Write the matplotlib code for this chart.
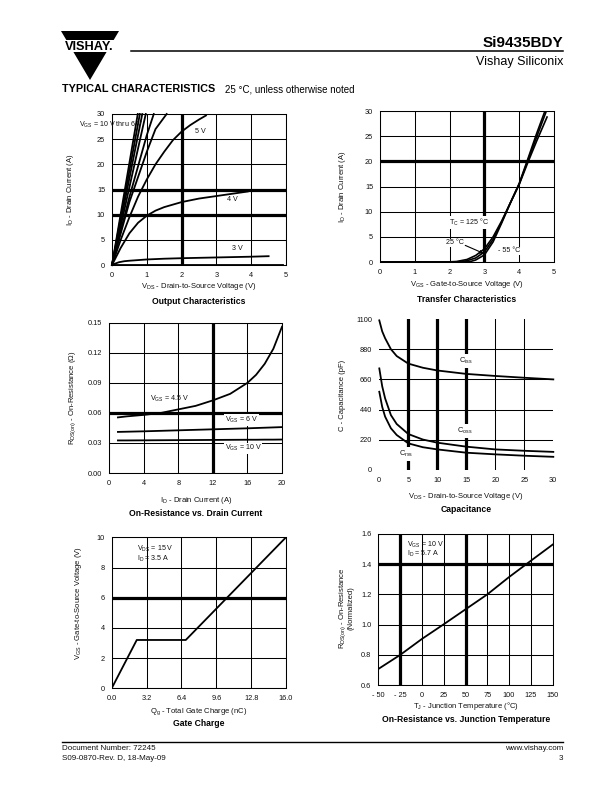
import matplotlib
matplotlib.use("Agg")
import matplotlib.pyplot as plt
from matplotlib.patches import Polygon, Rectangle
import numpy as np

plt.rcParams['font.family'] = ['Liberation Sans', 'DejaVu Sans']
plt.rcParams['mathtext.fontset'] = 'custom'
plt.rcParams['mathtext.rm'] = 'Liberation Sans'
plt.rcParams['mathtext.it'] = 'Liberation Sans'
plt.rcParams['mathtext.bf'] = 'Liberation Sans:bold'
plt.rcParams['mathtext.default'] = 'regular'

# ---------------- data ----------------
# Output characteristics (VDS [V], ID [A])
out_10v_x = [0, 0.74]; out_10v_y = [0, 30]
out_9v_x = [0, 0.80]; out_9v_y = [0, 30]
out_8v_x = [0, 0.87]; out_8v_y = [0, 30]
out_7v_x = [0, 0.97]; out_7v_y = [0, 30]
out_6v_x = [0, 0.5, 1.0, 1.2]; out_6v_y = [0, 13.5, 25.8, 30]
out_55v_x = [0, 0.5, 1.0, 1.25, 1.57]; out_55v_y = [0, 12.5, 22.5, 27.0, 30]
out_5v_x = [0, 0.25, 0.5, 0.75, 1.0, 1.25, 1.5, 1.75, 2.0, 2.25, 2.5, 2.7]
out_5v_y = [0, 5.0, 9.5, 13.6, 17.0, 20.0, 22.5, 24.8, 26.5, 27.8, 28.9, 29.7]
out_4v_x = [0, 0.25, 0.5, 0.75, 1.0, 1.25, 1.5, 2.0, 2.5, 3.0, 3.5, 3.9]
out_4v_y = [0, 3.4, 6.3, 8.4, 9.8, 10.8, 11.5, 12.5, 13.2, 13.7, 14.2, 14.6]
out_3v_x = [0, 0.1, 0.2, 0.35, 0.5, 1.0, 1.5, 2.0, 3.0, 4.0, 4.5]
out_3v_y = [0, 0.3, 0.55, 0.75, 0.85, 1.1, 1.25, 1.35, 1.5, 1.65, 1.75]
out_2v_x = [0, 4.9]; out_2v_y = [0.03, 0.03]

# Transfer characteristics (VGS [V], ID [A])
tr_25_x = [0, 2.0, 2.3, 2.5, 2.75, 3.0, 3.25, 3.5, 3.75, 4.0, 4.25, 4.5, 4.78]
tr_25_y = [0, 0, 0.05, 0.25, 0.8, 2.0, 4.5, 8.0, 11.8, 15.5, 20.2, 24.8, 30.0]
tr_125_x = [0, 1.9, 2.2, 2.5, 2.75, 3.0, 3.25, 3.5, 3.75, 4.0, 4.25, 4.5, 4.8]
tr_125_y = [0, 0, 0.1, 0.5, 1.3, 2.6, 5.0, 8.2, 11.8, 15.4, 19.8, 24.0, 28.8]
tr_m55_x = [0, 2.4, 2.6, 2.75, 3.0, 3.25, 3.5, 3.75, 4.0, 4.25, 4.5, 4.74]
tr_m55_y = [0, 0, 0.1, 0.4, 1.4, 4.0, 7.8, 11.8, 15.6, 20.5, 25.5, 30.0]

# On-resistance vs drain current (ID [A], RDS(on) [ohm])
ron_id = [1, 2, 4, 6, 8, 10, 12, 14, 16, 17, 18, 19, 20]
ron_45v = [0.0555, 0.0565, 0.058, 0.060, 0.0635, 0.067, 0.0725, 0.079, 0.090, 0.098, 0.109, 0.124, 0.146]
ron_6v = [0.0410, 0.0412, 0.0416, 0.0421, 0.0426, 0.0431, 0.0436, 0.0441, 0.0446, 0.0449, 0.0452, 0.0455, 0.0458]
ron_10v = [0.0325, 0.0325, 0.0326, 0.0327, 0.0328, 0.0329, 0.0330, 0.0331, 0.0332, 0.0332, 0.0333, 0.0333, 0.0334]

# Capacitance (VDS [V], C [pF])
cap_v = [0, 0.5, 1, 2, 3, 5, 7.5, 10, 15, 20, 25, 30]
cap_ciss = [1090, 1010, 960, 880, 830, 775, 745, 725, 700, 685, 672, 660]
cap_coss = [740, 610, 522, 400, 335, 262, 222, 199, 170, 150, 140, 132]
cap_crss = [570, 460, 389, 304, 255, 194, 166, 150, 126, 114, 104, 96]

# Gate charge (Qg [nC], VGS [V])
gc_q = [0, 2.3, 6.8, 16.0]
gc_v = [0, 3.2, 3.2, 10.0]

# On-resistance vs junction temperature (TJ [C], normalized RDS(on))
rt_t = [-50, -25, 0, 25, 50, 75, 100, 125, 150]
rt_r = [0.706, 0.799, 0.905, 1.002, 1.101, 1.200, 1.315, 1.423, 1.530]

# ---------------- figure ----------------
W, H = 612, 792
fig = plt.figure(figsize=(W / 100, H / 100), dpi=100)
fig.patch.set_facecolor('white')

ov = fig.add_axes([0, 0, 1, 1])
ov.set_xlim(0, W)
ov.set_ylim(H, 0)
ov.axis('off')

TXT = '#111111'
TICK_FS = 5.3
LAB_FS = 5.5
TIT_FS = 6.2
ANN_FS = 5.1
THIN = 0.75
THICK = 2.3
CURVE = 1.3


def add_ax(l, t, r, b):
    ax = fig.add_axes([l / W, 1 - b / H, (r - l) / W, (b - t) / H])
    ax.patch.set_alpha(0)
    return ax


def style(ax, xlim, ylim, xt, yt, xtl=None, ytl=None, thick_x=(), thick_y=(), frame=True):
    ax.set_xlim(*xlim)
    ax.set_ylim(*ylim)
    ax.set_xticks(xt)
    ax.set_yticks(yt)
    if xtl is not None:
        ax.set_xticklabels(xtl)
    if ytl is not None:
        ax.set_yticklabels(ytl)
    ax.tick_params(length=0, labelsize=TICK_FS, labelcolor=TXT, pad=5)
    for s in ax.spines.values():
        s.set_visible(frame)
        s.set_linewidth(THIN)
        s.set_color('black')
    inner_x = xt if frame else xt[1:-1]
    inner_y = yt if frame else yt[1:-1]
    for v in inner_x:
        ax.axvline(v, color='black', lw=THICK if v in thick_x else THIN, zorder=1)
    for v in inner_y:
        ax.axhline(v, color='black', lw=THICK if v in thick_y else THIN, zorder=1)


def labels(cx, xl_y, xl, title_y, title, yl_x, yl_y, yl):
    ov.text(cx, xl_y, xl, ha='center', va='center', fontsize=LAB_FS, color=TXT)
    ov.text(cx, title_y, title, ha='center', va='center', fontsize=TIT_FS,
            fontweight='bold', color='black')
    ov.text(yl_x, yl_y, yl, ha='center', va='center', rotation=90,
            fontsize=LAB_FS, color=TXT, linespacing=1.0)


# ---------------- header ----------------
ov.add_patch(Polygon([(61, 31), (119, 31), (90, 80)], closed=True, color='black', lw=0))
ov.add_patch(Rectangle((55, 40), 70, 12, color='white', lw=0))
ov.text(89.5, 46.5, 'VISHAY.', ha='center', va='center', fontsize=9.2,
        fontweight='bold', color='black')
ov.plot([131, 563], [51, 51], color='black', lw=1.1)
ov.text(563, 43, 'Si9435BDY', ha='right', va='center', fontsize=11,
        fontweight='bold', color='black')
ov.text(563, 62, 'Vishay Siliconix', ha='right', va='center', fontsize=9, color='black')
ov.text(62, 89, 'TYPICAL CHARACTERISTICS', ha='left', va='center', fontsize=7.8,
        fontweight='heavy', color='black')
ov.text(225, 89, '25 °C, unless otherwise noted', ha='left', va='center',
        fontsize=7.0, color='black')

# ---------------- footer ----------------
ov.plot([62, 563], [742, 742], color='black', lw=1.0)
ov.text(62, 749, 'Document Number: 72245', ha='left', va='center', fontsize=5.8, color=TXT)
ov.text(62, 759, 'S09-0870-Rev. D, 18-May-09', ha='left', va='center', fontsize=5.8, color=TXT)
ov.text(563, 749, 'www.vishay.com', ha='right', va='center', fontsize=5.8, color=TXT)
ov.text(563, 759, '3', ha='right', va='center', fontsize=5.8, color=TXT)

# ---------------- 1: Output characteristics ----------------
ax1 = add_ax(112, 114, 286, 265)
style(ax1, (0, 5), (0, 30), [0, 1, 2, 3, 4, 5], [0, 5, 10, 15, 20, 25, 30],
      thick_x=(2,), thick_y=(10, 15))
for xs, ys in [(out_10v_x, out_10v_y), (out_9v_x, out_9v_y), (out_8v_x, out_8v_y),
               (out_7v_x, out_7v_y), (out_6v_x, out_6v_y), (out_55v_x, out_55v_y),
               (out_5v_x, out_5v_y), (out_4v_x, out_4v_y), (out_3v_x, out_3v_y),
               (out_2v_x, out_2v_y)]:
    ax1.plot(xs, ys, color='black', lw=CURVE, zorder=3, clip_on=False)
ax1.text(0.89, 27.8, 'V$_{GS}$ = 10 V thru 6 V', ha='right', va='center', fontsize=ANN_FS,
         color=TXT, clip_on=False, zorder=4)
ax1.text(2.53, 26.5, '5 V', ha='center', va='center', fontsize=ANN_FS, color=TXT, zorder=4)
ax1.text(3.47, 13.1, '4 V', ha='center', va='center', fontsize=ANN_FS, color=TXT, zorder=4)
ax1.text(3.6, 3.2, '3 V', ha='center', va='center', fontsize=ANN_FS, color=TXT, zorder=4)
labels(199, 287, 'V$_{DS}$ - Drain-to-Source Voltage (V)', 301, 'Output Characteristics',
       70, 190, 'I$_D$ - Drain Current (A)')

# ---------------- 2: Transfer characteristics ----------------
ax2 = add_ax(380, 111, 554, 262)
style(ax2, (0, 5), (0, 30), [0, 1, 2, 3, 4, 5], [0, 5, 10, 15, 20, 25, 30],
      thick_x=(3,), thick_y=(20,))
for xs, ys in [(tr_125_x, tr_125_y), (tr_25_x, tr_25_y), (tr_m55_x, tr_m55_y)]:
    ax2.plot(xs, ys, color='black', lw=1.2, zorder=3)
ax2.text(2.56, 7.9, 'T$_C$ = 125 °C', ha='center', va='center', fontsize=ANN_FS, color=TXT,
         zorder=4, bbox=dict(facecolor='white', edgecolor='none', pad=0.5))
ax2.text(2.14, 3.8, '25 °C', ha='center', va='center', fontsize=ANN_FS, color=TXT, zorder=4,
         bbox=dict(facecolor='white', edgecolor='none', pad=0.5))
ax2.annotate('', xy=(2.98, 1.7), xytext=(2.45, 3.3),
             arrowprops=dict(arrowstyle='-|>', color='black', lw=0.8,
                             mutation_scale=5, shrinkA=0, shrinkB=0), zorder=4)
ax2.text(3.72, 2.2, '- 55 °C', ha='center', va='center', fontsize=ANN_FS, color=TXT, zorder=4,
         bbox=dict(facecolor='white', edgecolor='none', pad=0.5))
labels(467, 285, 'V$_{GS}$ - Gate-to-Source Voltage (V)', 299, 'Transfer Characteristics',
       343, 187, 'I$_D$ - Drain Current (A)')

# ---------------- 3: On-resistance vs drain current ----------------
ax3 = add_ax(109.3, 322.7, 282, 473)
style(ax3, (0, 20), (0, 0.15), [0, 4, 8, 12, 16, 20], [0, 0.03, 0.06, 0.09, 0.12, 0.15],
      ytl=['0.00', '0.03', '0.06', '0.09', '0.12', '0.15'],
      thick_x=(12,), thick_y=(0.06,))
for ys in (ron_45v, ron_6v, ron_10v):
    ax3.plot(ron_id, ys, color='black', lw=CURVE, zorder=3)
ax3.text(7.0, 0.0738, 'V$_{GS}$ = 4.5 V', ha='center', va='center', fontsize=ANN_FS,
         color=TXT, zorder=4)
ax3.text(15.3, 0.0529, 'V$_{GS}$ = 6 V', ha='center', va='center', fontsize=ANN_FS,
         color=TXT, zorder=4, bbox=dict(facecolor='white', edgecolor='none', pad=0.5))
ax3.text(15.5, 0.0246, 'V$_{GS}$ = 10 V', ha='center', va='center', fontsize=ANN_FS,
         color=TXT, zorder=4, bbox=dict(facecolor='white', edgecolor='none', pad=0.5))
labels(196, 501, 'I$_D$ - Drain Current (A)', 514, 'On-Resistance vs. Drain Current',
       73, 398, 'R$_{DS(on)}$ - On-Resistance (Ω)')

# ---------------- 4: Capacitance ----------------
ax4 = add_ax(379.3, 319, 553.3, 470)
style(ax4, (0, 30), (0, 1100), [0, 5, 10, 15, 20, 25, 30], [0, 220, 440, 660, 880, 1100],
      thick_x=(5, 10, 15), frame=False)
for ys in (cap_ciss, cap_coss, cap_crss):
    ax4.plot(cap_v, ys, color='black', lw=CURVE, zorder=3, clip_on=False)
ax4.text(14.95, 796, 'C$_{iss}$', ha='center', va='center', fontsize=5.4, color=TXT,
         zorder=4, bbox=dict(facecolor='white', edgecolor='none', pad=1.5))
ax4.text(14.7, 286, 'C$_{oss}$', ha='center', va='center', fontsize=5.4, color=TXT,
         zorder=4, bbox=dict(facecolor='white', edgecolor='none', pad=1.5))
ax4.text(4.6, 117, 'C$_{rss}$', ha='center', va='center', fontsize=5.4, color=TXT,
         zorder=4, bbox=dict(facecolor='white', edgecolor='none', pad=1.5))
labels(466, 497, 'V$_{DS}$ - Drain-to-Source Voltage (V)', 509, 'Capacitance',
       343, 395, 'C - Capacitance (pF)')

# ---------------- 5: Gate charge ----------------
ax5 = add_ax(111.7, 537.3, 286, 688.3)
style(ax5, (0, 16), (0, 10), [0, 3.2, 6.4, 9.6, 12.8, 16.0], [0, 2, 4, 6, 8, 10],
      xtl=['0.0', '3.2', '6.4', '9.6', '12.8', '16.0'], thick_y=(6,))
ax5.plot(gc_q, gc_v, color='black', lw=CURVE, zorder=3)
ax5.text(2.3, 9.22, 'V$_{DS}$ = 15 V', ha='left', va='center', fontsize=ANN_FS, color=TXT, zorder=4)
ax5.text(2.3, 8.60, 'I$_D$ = 3.5 A', ha='left', va='center', fontsize=ANN_FS, color=TXT, zorder=4)
labels(199, 712, 'Q$_g$ - Total Gate Charge (nC)', 724, 'Gate Charge',
       78, 603, 'V$_{GS}$ - Gate-to-Source Voltage (V)')

# ---------------- 6: On-resistance vs junction temperature ----------------
ax6 = add_ax(378.3, 534, 552.7, 685)
style(ax6, (-50, 150), (0.6, 1.6), [-50, -25, 0, 25, 50, 75, 100, 125, 150],
      [0.6, 0.8, 1.0, 1.2, 1.4, 1.6],
      xtl=['- 50', '- 25', '0', '25', '50', '75', '100', '125', '150'],
      ytl=['0.6', '0.8', '1.0', '1.2', '1.4', '1.6'],
      thick_x=(-25, 50), thick_y=(1.4,))
ax6.plot(rt_t, rt_r, color='black', lw=CURVE, zorder=3)
ax6.text(-17.4, 1.527, 'V$_{GS}$ = 10 V', ha='left', va='center', fontsize=ANN_FS, color=TXT, zorder=4)
ax6.text(-17.4, 1.466, 'I$_D$ = 5.7 A', ha='left', va='center', fontsize=ANN_FS, color=TXT, zorder=4)
labels(466, 706, 'T$_J$ - Junction Temperature (°C)', 719,
       'On-Resistance vs. Junction Temperature',
       346, 608, 'R$_{DS(on)}$ - On-Resistance\n(Normalized)')

fig.savefig('out.png', dpi=100, facecolor='white')
